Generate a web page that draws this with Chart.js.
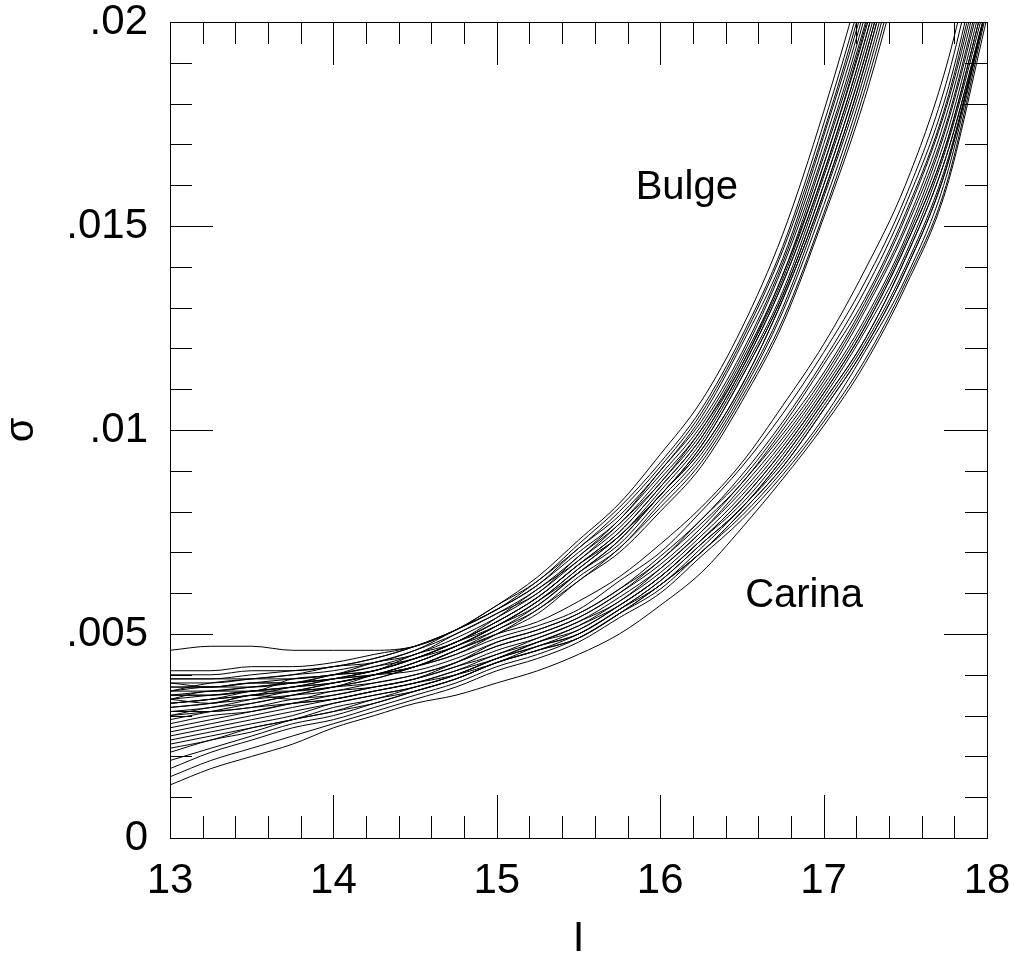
<!DOCTYPE html>
<html>
<head>
<meta charset="utf-8">
<script src="https://cdn.jsdelivr.net/npm/chart.js@4.4.1/dist/chart.umd.min.js"></script>
<style>
  html, body { margin: 0; padding: 0; background: #fff; }
  #wrap { width: 1014px; height: 960px; }
</style>
</head>
<body>
<div id="wrap"><canvas id="chart"></canvas></div>
<script>
// I magnitude grid the curves are sampled on
const mags = [13, 13.25, 13.5, 13.75, 14, 14.25, 14.5, 14.75, 15, 15.25, 15.5,
  15.75, 16, 16.25, 16.5, 16.75, 17, 17.25, 17.5, 17.75, 18]

// sigma vs I, bulge fields (sampled up to I = 17.5)
const bulge = [
  [.0046, .0047, .0047, .0046, .0046, .0046, .0047, .0051, .0057, .0064, .0073, .0082, .0094, .0107, .0125, .0148, .0178, .0213, .0255],
  [.0041, .0041, .0042, .0042, .0043, .0045, .0047, .0051, .0057, .0063, .0072, .0081, .0092, .0105, .0123, .0145, .0175, .0209, .0250],
  [.0039, .0039, .0040, .0041, .0042, .0044, .0047, .0051, .0056, .0062, .0071, .0079, .0090, .0103, .0121, .0142, .0172, .0205, .0245],
  [.0038, .0038, .0039, .0040, .0041, .0043, .0046, .0050, .0055, .0061, .0069, .0078, .0089, .0101, .0118, .0140, .0168, .0201, .0241],
  [.0037, .0037, .0038, .0039, .0040, .0042, .0045, .0049, .0054, .0060, .0068, .0076, .0087, .0099, .0116, .0137, .0165, .0197, .0236],
  [.0036, .0037, .0037, .0038, .0040, .0042, .0044, .0048, .0053, .0059, .0067, .0075, .0086, .0098, .0115, .0136, .0163, .0195, .0234],
  [.0035, .0036, .0037, .0038, .0039, .0041, .0044, .0048, .0053, .0059, .0067, .0074, .0085, .0097, .0114, .0134, .0162, .0193, .0231],
  [.0034, .0035, .0036, .0037, .0039, .0041, .0044, .0047, .0052, .0058, .0066, .0074, .0084, .0096, .0113, .0133, .0160, .0191, .0229],
  [.0033, .0034, .0035, .0037, .0038, .0040, .0043, .0047, .0052, .0058, .0065, .0073, .0084, .0095, .0111, .0132, .0158, .0189, .0227],
  [.0032, .0033, .0035, .0036, .0038, .0040, .0043, .0047, .0051, .0057, .0065, .0072, .0083, .0094, .0110, .0130, .0157, .0187, .0224],
  [.0031, .0032, .0034, .0036, .0037, .0040, .0042, .0046, .0051, .0056, .0064, .0071, .0082, .0093, .0109, .0129, .0155, .0185, .0222],
  [.0030, .0032, .0033, .0035, .0037, .0039, .0042, .0046, .0050, .0056, .0063, .0071, .0081, .0092, .0108, .0127, .0153, .0183, .0219],
  [.0029, .0031, .0033, .0035, .0037, .0039, .0042, .0045, .0050, .0055, .0063, .0070, .0080, .0091, .0107, .0126, .0152, .0181, .0217],
  [.0034, .0036, .0036, .0039, .0040, .0043, .0045, .0050, .0055, .0060, .0069, .0077, .0088, .0100, .0117, .0138, .0167, .0199, .0238],
  [.0036, .0038, .0039, .0040, .0042, .0043, .0046, .0051, .0056, .0062, .0070, .0078, .0090, .0102, .0119, .0141, .0170, .0203, .0243],
  [.0039, .0039, .0039, .0039, .0040, .0041, .0044, .0048, .0052, .0058, .0066, .0074, .0084, .0096, .0113, .0133, .0160, .0191, .0229],
  [.0040, .0040, .0041, .0041, .0042, .0044, .0047, .0051, .0056, .0063, .0071, .0080, .0091, .0104, .0122, .0144, .0173, .0207, .0248],
  [.0033, .0034, .0036, .0037, .0039, .0041, .0044, .0048, .0053, .0059, .0067, .0075, .0086, .0098, .0115, .0136, .0163, .0195, .0234],
  [.0038, .0037, .0038, .0038, .0040, .0041, .0045, .0048, .0054, .0061, .0068, .0077, .0087, .0100, .0116, .0138, .0165, .0198, .0237],
  [.0035, .0035, .0036, .0037, .0038, .0040, .0043, .0047, .0052, .0057, .0065, .0073, .0084, .0095, .0111, .0132, .0158, .0189, .0227]
]

// sigma vs I, Carina fields
const carina = [
  [.0033, .0034, .0035, .0036, .0038, .0040, .0042, .0046, .0050, .0053, .0058, .0064, .0072, .0081, .0092, .0106, .0121, .0139, .0160, .0189, .0231],
  [.0036, .0036, .0037, .0038, .0039, .0040, .0042, .0045, .0049, .0052, .0056, .0063, .0070, .0080, .0091, .0104, .0119, .0136, .0157, .0185, .0227],
  [.0032, .0033, .0034, .0035, .0036, .0038, .0040, .0043, .0048, .0051, .0055, .0061, .0069, .0078, .0089, .0102, .0117, .0134, .0155, .0182, .0223],
  [.0030, .0031, .0032, .0034, .0035, .0037, .0039, .0043, .0047, .0050, .0054, .0060, .0068, .0077, .0087, .0100, .0114, .0131, .0152, .0179, .0218],
  [.0028, .0030, .0031, .0033, .0035, .0037, .0039, .0042, .0046, .0049, .0053, .0059, .0066, .0075, .0086, .0098, .0112, .0129, .0149, .0175, .0214],
  [.0026, .0028, .0030, .0032, .0034, .0036, .0038, .0041, .0045, .0048, .0052, .0058, .0065, .0074, .0084, .0096, .0110, .0126, .0146, .0172, .0210],
  [.0025, .0027, .0029, .0031, .0033, .0035, .0037, .0040, .0044, .0048, .0051, .0057, .0064, .0073, .0083, .0095, .0109, .0125, .0145, .0170, .0208],
  [.0024, .0026, .0028, .0030, .0033, .0035, .0037, .0040, .0044, .0047, .0051, .0057, .0064, .0073, .0082, .0094, .0108, .0124, .0143, .0169, .0206],
  [.0022, .0024, .0027, .0029, .0032, .0034, .0037, .0040, .0044, .0047, .0050, .0056, .0063, .0072, .0081, .0093, .0107, .0122, .0142, .0167, .0204],
  [.0021, .0024, .0026, .0029, .0031, .0034, .0036, .0039, .0043, .0046, .0050, .0056, .0062, .0071, .0081, .0092, .0106, .0121, .0140, .0165, .0204],
  [.0019, .0022, .0025, .0028, .0030, .0033, .0036, .0039, .0043, .0046, .0049, .0055, .0062, .0070, .0080, .0091, .0105, .0120, .0139, .0164, .0204],
  [.0017, .0021, .0024, .0027, .0029, .0032, .0035, .0038, .0042, .0045, .0049, .0055, .0061, .0070, .0079, .0090, .0103, .0119, .0137, .0162, .0204],
  [.0015, .0019, .0022, .0025, .0028, .0031, .0034, .0037, .0041, .0044, .0048, .0054, .0060, .0069, .0078, .0089, .0102, .0117, .0136, .0160, .0203],
  [.0013, .0017, .0020, .0023, .0027, .0030, .0033, .0035, .0038, .0041, .0045, .0050, .0057, .0065, .0076, .0088, .0101, .0116, .0135, .0159, .0201],
  [.0034, .0033, .0035, .0034, .0036, .0037, .0039, .0042, .0045, .0049, .0053, .0058, .0066, .0075, .0085, .0097, .0111, .0127, .0147, .0174, .0212],
  [.0031, .0031, .0032, .0033, .0034, .0036, .0038, .0040, .0043, .0047, .0050, .0056, .0063, .0072, .0081, .0093, .0107, .0122, .0142, .0167, .0204],
  [.0035, .0035, .0036, .0036, .0037, .0038, .0040, .0043, .0047, .0050, .0054, .0060, .0067, .0076, .0087, .0099, .0113, .0130, .0150, .0177, .0216],
  [.0027, .0029, .0031, .0033, .0034, .0036, .0038, .0041, .0044, .0048, .0052, .0057, .0064, .0073, .0083, .0095, .0109, .0125, .0145, .0170, .0208],
  [.0023, .0025, .0027, .0029, .0031, .0033, .0036, .0039, .0043, .0046, .0049, .0055, .0062, .0070, .0080, .0091, .0105, .0120, .0139, .0164, .0204],
  [.0037, .0037, .0038, .0038, .0039, .0040, .0041, .0044, .0048, .0051, .0055, .0061, .0068, .0078, .0088, .0101, .0116, .0132, .0153, .0180, .0221]
]

const xTicks = [13, 14, 15, 16, 17, 18]
const yTicks = [0, .005, .01, .015, .02]

const groupLabels = [
  { text: 'Bulge', x: 15.85, y: .01565 },
  { text: 'Carina', x: 16.52, y: .00565 }
]

const FONT = '"Liberation Sans", Arial, Helvetica, sans-serif'

function toSeries(rows, name) {
  return rows.map((vals, i) => ({
    label: name + ' ' + (i + 1),
    data: vals.map((v, j) => ({ x: mags[j], y: v })),
    borderColor: '#000',
    borderWidth: 1,
    pointRadius: 0,
    showLine: true,
    fill: false,
    cubicInterpolationMode: 'monotone'
  }))
}

// box, inward ticks on all four sides, and the two group labels
const framePlugin = {
  id: 'frame',
  afterDatasetsDraw(chart) {
    const { ctx, chartArea: a, scales: { x, y } } = chart
    ctx.save()
    ctx.strokeStyle = '#000'
    ctx.lineWidth = 1
    ctx.beginPath()
    for (let k = 0; k <= 25; k++) {
      const px = Math.round(x.getPixelForValue(13 + k * 0.2)) + 0.5
      const len = k % 5 === 0 ? 43 : 22
      ctx.moveTo(px, a.bottom); ctx.lineTo(px, a.bottom - len)
      ctx.moveTo(px, a.top); ctx.lineTo(px, a.top + len)
    }
    for (let k = 0; k <= 20; k++) {
      const py = Math.round(y.getPixelForValue(k * 0.001)) + 0.5
      const len = k % 5 === 0 ? 43 : 22
      ctx.moveTo(a.left, py); ctx.lineTo(a.left + len, py)
      ctx.moveTo(a.right, py); ctx.lineTo(a.right - len, py)
    }
    ctx.stroke()
    ctx.strokeRect(Math.round(a.left) + 0.5, Math.round(a.top) + 0.5,
      Math.round(a.right - a.left), Math.round(a.bottom - a.top))

    ctx.fillStyle = '#000'
    ctx.font = '40px ' + FONT
    ctx.textBaseline = 'alphabetic'
    groupLabels.forEach(l => {
      ctx.fillText(l.text, x.getPixelForValue(l.x), y.getPixelForValue(l.y))
    })
    ctx.restore()
  }
}

new Chart(document.getElementById('chart'), {
  type: 'scatter',
  data: { datasets: [...toSeries(bulge, 'Bulge'), ...toSeries(carina, 'Carina')] },
  plugins: [framePlugin],
  options: {
    responsive: true,
    maintainAspectRatio: false,
    animation: false,
    layout: { padding: { top: 22, right: 27, left: 0, bottom: 0 } },
    plugins: { legend: { display: false }, tooltip: { enabled: false } },
    scales: {
      x: {
        type: 'linear',
        min: 13,
        max: 18,
        afterBuildTicks: s => { s.ticks = xTicks.map(v => ({ value: v })) },
        afterFit: s => { s.height = 122; s.paddingLeft = 0; s.paddingRight = 0 },
        grid: { display: false, drawTicks: false },
        border: { display: false },
        ticks: {
          color: '#000',
          padding: 22,
          maxRotation: 0,
          font: { family: FONT, size: 42, lineHeight: 1 },
          callback: v => String(v)
        },
        title: {
          display: true,
          text: 'I',
          color: '#000',
          padding: { top: 4, bottom: 0 },
          font: { family: FONT, size: 42, lineHeight: 1 }
        }
      },
      y: {
        type: 'linear',
        min: 0,
        max: 0.02,
        afterBuildTicks: s => { s.ticks = yTicks.map(v => ({ value: v })) },
        afterFit: s => { s.width = 170; s.paddingTop = 0; s.paddingBottom = 0 },
        grid: { display: false, drawTicks: false },
        border: { display: false },
        ticks: {
          color: '#000',
          padding: 22,
          font: { family: FONT, size: 42, lineHeight: 1 },
          callback: v => v === 0 ? '0' : String(v).replace(/^0\./, '.')
        },
        title: {
          display: true,
          text: 'σ',
          color: '#000',
          padding: { top: 2, bottom: 0 },
          font: { family: FONT, size: 40, lineHeight: 1 }
        }
      }
    }
  }
})
</script>
</body>
</html>
